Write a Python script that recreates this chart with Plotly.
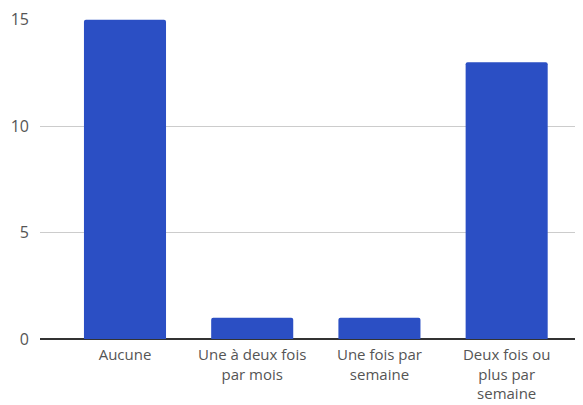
import plotly.graph_objects as go

categorias = ["Aucune", "Une à deux fois<br>par mois", "Une fois par<br>semaine", "Deux fois ou<br>plus par<br>semaine"]
valores = [15, 1, 1, 13]
ticks_y = [0, 5, 10, 15]

fig = go.Figure()
fig.add_trace(
    go.Bar(
        x=list(range(len(categorias))),
        y=valores,
        marker=dict(color="#2b4fc4", line=dict(width=0)),
        width=0.645,
        hoverinfo="y",
    )
)
# la page ajoute 8 px de marge au body : on compense
fig.update_layout(
    template="plotly_white",
    width=575,
    height=397,
    margin=dict(l=32, r=0, t=11, b=66),
    showlegend=False,
    barcornerradius=2,
    font=dict(family="Open Sans, Arial", size=15, color="#555555"),
    xaxis=dict(
        tickmode="array",
        tickvals=list(range(len(categorias))),
        ticktext=categorias,
        range=[-0.668, 3.6],
        showgrid=False,
        showline=False,
        zeroline=False,
        ticks="",
        automargin=False,
        ticklabelstandoff=5,
        tickfont=dict(size=15, color="#555555"),
    ),
    yaxis=dict(
        tickvals=ticks_y,
        range=[0, 15.03],
        gridcolor="#cccccc",
        gridwidth=1,
        zeroline=True,
        zerolinecolor="#333333",
        zerolinewidth=1.5,
        ticks="",
        automargin=False,
        ticklabelstandoff=10,
        ticklabeloverflow="allow",
        tickfont=dict(size=16, color="#555555"),
    ),
    plot_bgcolor="white",
    paper_bgcolor="white",
)
fig.write_html("out.html")
